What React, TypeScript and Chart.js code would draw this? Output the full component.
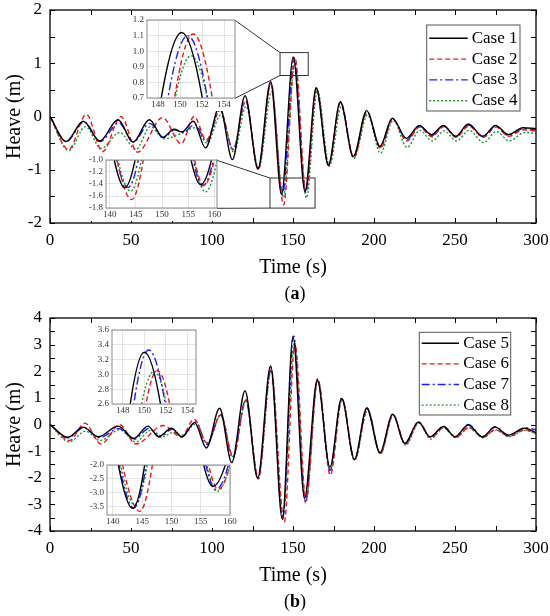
import { useEffect, useRef } from "react";
import { Chart, registerables } from "chart.js";

Chart.register(...registerables);

const SERIF = '"Liberation Serif", "Times New Roman", serif';

// ---------- panel (a) : heave time series, cases 1-4 ----------
const case1Time = [0, 10, 20.5, 30.7, 42, 51.3, 61.3, 69.8, 76.5, 81.5, 88.5, 96, 104.7, 112.6, 120.4, 128.4, 136.2, 142.9, 150.15, 157.4, 164.3, 171.8, 179.2, 187.2, 195.5, 203.7, 211.3, 220, 228, 235.5, 242.8, 250.5, 258.2, 267.2, 275, 283, 292, 300];
const case1Heave = [0, -0.47, -0.09, -0.46, -0.06, -0.48, -0.06, -0.39, -0.24, -0.29, -0.09, -0.59, 0.19, -0.81, 0.39, -0.98, 0.66, -1.46, 1.12, -1.41, 0.54, -0.91, 0.28, -0.75, 0.11, -0.56, -0.03, -0.41, -0.17, -0.34, -0.17, -0.37, -0.14, -0.37, -0.17, -0.34, -0.21, -0.23];

const case2Time = [0, 11.5, 22.4, 32.5, 43.8, 54, 69.5, 81, 89, 96.5, 105, 113, 120.8, 128.6, 136.4, 144.2, 151.2, 158, 164.6, 172, 179.4, 187.5, 195.8, 204, 211.5, 220.2, 228.2, 235.8, 243, 250.7, 258.5, 267.5, 275.3, 283.3, 292.5, 300];
const case2Heave = [0, -0.62, 0.04, -0.66, 0.0, -0.67, -0.02, -0.51, 0.0, -0.44, 0.12, -0.62, 0.3, -1.0, 0.63, -1.66, 1.11, -1.42, 0.52, -0.93, 0.27, -0.77, 0.08, -0.6, -0.05, -0.46, -0.2, -0.38, -0.19, -0.39, -0.18, -0.39, -0.2, -0.37, -0.25, -0.27];

const case3Time = [0, 10, 21, 31, 42.5, 51.5, 61.5, 70, 77, 82, 89.5, 96.8, 105, 113, 120.8, 128.5, 136.4, 143.5, 150.7, 157.8, 164.4, 172, 179.3, 187.3, 195.6, 203.8, 211.4, 220.2, 228, 235.6, 243, 250.5, 258.3, 267.3, 275, 283, 292, 300];
const case3Heave = [0, -0.47, -0.1, -0.47, -0.12, -0.48, -0.13, -0.4, -0.25, -0.3, -0.15, -0.47, 0.12, -0.62, 0.29, -0.98, 0.63, -1.46, 1.1, -1.43, 0.53, -0.92, 0.26, -0.76, 0.1, -0.58, -0.04, -0.44, -0.18, -0.36, -0.18, -0.38, -0.16, -0.38, -0.18, -0.36, -0.23, -0.25];

const case4Time = [0, 11.5, 22, 31.5, 43, 53, 62, 70.5, 81.5, 89.5, 97, 105.5, 113.5, 121, 128.8, 136.8, 144, 151, 158.3, 165, 172.5, 179.8, 187.6, 196, 204, 211.8, 220.4, 228.3, 236, 243.3, 251, 258.7, 267.7, 275.5, 283.5, 293, 300];
const case4Heave = [0, -0.64, -0.19, -0.6, -0.3, -0.62, -0.19, -0.42, -0.31, -0.21, -0.5, 0.03, -0.67, 0.19, -0.97, 0.47, -1.52, 0.97, -1.53, 0.5, -0.93, 0.18, -0.79, 0.03, -0.69, -0.07, -0.58, -0.26, -0.46, -0.27, -0.46, -0.26, -0.49, -0.28, -0.46, -0.3, -0.32];

// ---------- panel (b) : heave time series, cases 5-8 ----------
const case5Time = [0, 11, 20.4, 29.8, 42, 51.8, 60.5, 67, 75, 81.3, 89.3, 96.5, 104.7, 112.2, 120.4, 128.2, 136.2, 143.4, 150, 157.1, 165, 172.8, 180, 187.9, 195.5, 203.7, 211.5, 219, 227.4, 234.6, 242.8, 250, 258.2, 266.9, 274.7, 283, 293, 300];
const case5Heave = [0, -0.48, -0.1, -0.46, -0.06, -0.52, -0.06, -0.46, -0.14, -0.47, 0.07, -0.88, 0.61, -1.43, 1.27, -2.02, 2.2, -3.56, 3.3, -2.77, 1.67, -1.6, 0.98, -1.31, 0.61, -1.06, 0.39, -0.71, 0.1, -0.46, -0.08, -0.46, -0.02, -0.46, -0.1, -0.4, -0.14, -0.3];

const case6Time = [0, 12, 21.5, 31.5, 43, 53, 70, 81, 89, 97, 105.5, 113, 121, 128.6, 136.3, 144.6, 151.2, 158, 165.3, 173, 180.3, 188, 196, 204, 211.8, 219.4, 227.7, 235, 243, 250.5, 258.5, 267.2, 275, 283.3, 293.3, 300];
const case6Heave = [0, -0.6, 0.05, -0.73, -0.01, -0.73, -0.04, -0.47, 0.2, -0.7, 0.36, -1.21, 0.92, -2.05, 2.15, -3.67, 3.05, -2.87, 1.72, -1.9, 0.96, -1.33, 0.55, -1.1, 0.36, -0.74, 0.07, -0.5, -0.12, -0.48, -0.12, -0.48, -0.2, -0.44, -0.2, -0.34];

const case7Time = [0, 11, 21, 30.5, 42.5, 52, 61, 68, 75.5, 81.5, 90, 97, 105.2, 112.8, 120.8, 128.4, 136.4, 143.6, 150.4, 157.6, 165.2, 172.9, 180.1, 188, 195.7, 203.8, 211.6, 219.2, 227.5, 234.8, 242.9, 250.2, 258.3, 267, 274.8, 283.2, 293, 300];
const case7Heave = [0, -0.5, -0.12, -0.5, -0.15, -0.55, -0.15, -0.47, -0.16, -0.46, 0.1, -0.75, 0.36, -1.25, 0.92, -2.03, 2.05, -3.55, 3.33, -2.88, 1.7, -1.72, 1.0, -1.33, 0.63, -1.08, 0.4, -0.74, 0.1, -0.48, -0.06, -0.47, 0.0, -0.47, -0.08, -0.42, -0.12, -0.2];

const case8Time = [0, 12, 22, 31, 43, 53, 62, 70, 76, 82, 89.5, 97, 105.5, 113, 121, 128.6, 136.6, 143.7, 150.9, 157.8, 165.3, 173, 180.3, 188, 196, 204, 211.8, 219.5, 227.7, 235, 243, 250.5, 258.5, 267.2, 275, 283.3, 293.3, 300];
const case8Heave = [0, -0.65, -0.25, -0.6, -0.2, -0.65, -0.22, -0.45, -0.3, -0.4, 0.0, -0.72, 0.35, -1.2, 0.9, -2.0, 2.05, -3.42, 3.04, -2.95, 1.68, -1.75, 0.95, -1.35, 0.57, -1.1, 0.35, -0.78, 0.05, -0.55, -0.12, -0.5, -0.12, -0.5, -0.2, -0.46, -0.22, -0.35];

// inset tick values
const peakInsetTimeTicks = [148, 150, 152, 154];
const troughInsetTimeTicks = [140, 145, 150, 155, 160];
const peakInsetHeaveTicksA = [0.7, 0.8, 0.9, 1.0, 1.1, 1.2];
const troughInsetHeaveTicksA = [-1.8, -1.6, -1.4, -1.2, -1.0];
const peakInsetHeaveTicksB = [2.6, 2.8, 3.0, 3.2, 3.4, 3.6];
const troughInsetHeaveTicksB = [-3.5, -3.0, -2.5, -2.0];

type Series = { label: string; time: number[]; heave: number[]; color: string; dash: number[] };

const RED = "#f0141e";
const BLUE = "#1e1eff";
const GREEN = "#1a9a2a";

const seriesA: Series[] = [
  { label: "Case 1", time: case1Time, heave: case1Heave, color: "#000000", dash: [] },
  { label: "Case 2", time: case2Time, heave: case2Heave, color: RED, dash: [5, 3] },
  { label: "Case 3", time: case3Time, heave: case3Heave, color: BLUE, dash: [8, 3, 2, 3] },
  { label: "Case 4", time: case4Time, heave: case4Heave, color: GREEN, dash: [2, 2] },
];
const seriesB: Series[] = [
  { label: "Case 5", time: case5Time, heave: case5Heave, color: "#000000", dash: [] },
  { label: "Case 6", time: case6Time, heave: case6Heave, color: RED, dash: [5, 3] },
  { label: "Case 7", time: case7Time, heave: case7Heave, color: BLUE, dash: [8, 3, 2, 3] },
  { label: "Case 8", time: case8Time, heave: case8Heave, color: GREEN, dash: [2, 2] },
];

type InsetCfg = {
  left: number; top: number; width: number; height: number;
  xMin: number; xMax: number; yMin: number; yMax: number;
  xTicks: number[]; yTicks: number[];
  box?: { x0: number; x1: number; y0: number; y1: number };
};

const insetsA: InsetCfg[] = [
  { left: 146.7, top: 20.3, width: 88.3, height: 78, xMin: 147, xMax: 155, yMin: 0.7, yMax: 1.2,
    xTicks: peakInsetTimeTicks, yTicks: peakInsetHeaveTicksA, box: { x0: 142, x1: 159.4, y0: 0.77, y1: 1.2 } },
  { left: 105.5, top: 160, width: 110.5, height: 48.3, xMin: 139.3, xMax: 160.5, yMin: -1.8, yMax: -1.0,
    xTicks: troughInsetTimeTicks, yTicks: troughInsetHeaveTicksA, box: { x0: 135.8, x1: 163.6, y0: -1.72, y1: -1.155 } },
];
const insetsB: InsetCfg[] = [
  { left: 112.3, top: 22, width: 84.4, height: 74.3, xMin: 147, xMax: 154.8, yMin: 2.6, yMax: 3.6,
    xTicks: peakInsetTimeTicks, yTicks: peakInsetHeaveTicksB },
  { left: 107.3, top: 157, width: 122.7, height: 50, xMin: 139, xMax: 160, yMin: -3.8, yMax: -2.0,
    xTicks: troughInsetTimeTicks, yTicks: troughInsetHeaveTicksB },
];

const legendA = { left: 426.7, top: 25, width: 93.3, height: 86, firstRow: 13.3, rowGap: 20.8, lineStart: 2.5, lineEnd: 41, textX: 45 };
const legendB = { left: 419.3, top: 24.3, width: 91.4, height: 82.7, firstRow: 11, rowGap: 20.6, lineStart: 2.4, lineEnd: 39.7, textX: 44 };

const LINE_W = 1.4;

const toDataset = (s: Series) => ({
  label: s.label,
  data: s.time.map((t, i) => ({ x: t, y: s.heave[i] })),
  borderColor: s.color,
  borderDash: s.dash,
  borderWidth: LINE_W,
  pointRadius: 0,
  fill: false,
  cubicInterpolationMode: "monotone" as const,
  xAxisID: "x",
  yAxisID: "y",
});

const caseLegend = {
  id: "caseLegend",
  afterDraw(chart: any, _args: any, o: any) {
    const ctx = chart.ctx;
    ctx.save();
    ctx.fillStyle = "#fff";
    ctx.fillRect(o.left, o.top, o.width, o.height);
    ctx.strokeStyle = "#555";
    ctx.lineWidth = 1;
    ctx.strokeRect(o.left, o.top, o.width, o.height);
    chart.data.datasets.forEach((ds: any, i: number) => {
      const y = o.top + o.firstRow + i * o.rowGap;
      ctx.strokeStyle = ds.borderColor;
      ctx.lineWidth = ds.borderWidth;
      ctx.setLineDash(ds.borderDash || []);
      ctx.beginPath();
      ctx.moveTo(o.left + o.lineStart, y);
      ctx.lineTo(o.left + o.lineEnd, y);
      ctx.stroke();
      ctx.setLineDash([]);
      ctx.fillStyle = "#000";
      ctx.font = `17px ${SERIF}`;
      ctx.textBaseline = "middle";
      ctx.textAlign = "left";
      ctx.fillText(ds.label, o.left + o.textX, y);
    });
    ctx.restore();
  },
};

// boxes round the zoomed regions and the lines to their insets
const zoomBoxes = {
  id: "zoomBoxes",
  afterDraw(chart: any, _args: any, o: any) {
    const { x, y } = chart.scales;
    const ctx = chart.ctx;
    ctx.save();
    ctx.strokeStyle = "#333";
    ctx.lineWidth = 1;
    (o.insets || []).forEach((ins: InsetCfg) => {
      if (!ins.box) return;
      const bx0 = x.getPixelForValue(ins.box.x0);
      const bx1 = x.getPixelForValue(ins.box.x1);
      const byTop = y.getPixelForValue(ins.box.y1);
      const byBot = y.getPixelForValue(ins.box.y0);
      ctx.strokeRect(bx0, byTop, bx1 - bx0, byBot - byTop);
      ctx.beginPath();
      ctx.moveTo(bx0, byTop);
      ctx.lineTo(ins.left + ins.width, ins.top);
      ctx.moveTo(bx0, byBot);
      ctx.lineTo(ins.left + ins.width, ins.top + ins.height);
      ctx.stroke();
    });
    ctx.restore();
  },
};

// inward tick marks on all four sides of the main frame
const innerTicks = {
  id: "innerTicks",
  afterDraw(chart: any) {
    const { ctx, chartArea: a, scales } = chart;
    const len = 5;
    ctx.save();
    ctx.strokeStyle = "#000";
    ctx.lineWidth = 1;
    ctx.beginPath();
    scales.x.ticks.forEach((t: any) => {
      const px = Math.round(scales.x.getPixelForValue(t.value)) + 0.5;
      ctx.moveTo(px, a.bottom);
      ctx.lineTo(px, a.bottom - len);
      ctx.moveTo(px, a.top);
      ctx.lineTo(px, a.top + len);
    });
    scales.y.ticks.forEach((t: any) => {
      const py = Math.round(scales.y.getPixelForValue(t.value)) + 0.5;
      ctx.moveTo(a.left, py);
      ctx.lineTo(a.left + len, py);
      ctx.moveTo(a.right, py);
      ctx.lineTo(a.right - len, py);
    });
    ctx.stroke();
    ctx.lineWidth = 1.3;
    ctx.strokeRect(a.left, a.top, a.right - a.left, a.bottom - a.top);
    ctx.restore();
  },
};

const insetFrame = {
  id: "insetFrame",
  beforeDraw(chart: any) {
    const { ctx, chartArea: a, height } = chart;
    ctx.save();
    ctx.fillStyle = "#fff";
    ctx.fillRect(0, a.top, a.right, height - a.top);
    ctx.restore();
  },
  afterDraw(chart: any) {
    const { ctx, chartArea: a } = chart;
    ctx.save();
    ctx.strokeStyle = "#8a8a8a";
    ctx.lineWidth = 1;
    ctx.strokeRect(a.left, a.top, a.right - a.left, a.bottom - a.top);
    ctx.restore();
  },
};

const PAD_L = 20;
const PAD_R = 8;
const PAD_T = 5;
const PAD_B = 13;

function Inset({ cfg, series }: { cfg: InsetCfg; series: Series[] }) {
  const ref = useRef<HTMLCanvasElement>(null);
  useEffect(() => {
    if (!ref.current) return;
    const tickFont = { family: SERIF, size: 9 };
    const chart = new Chart(ref.current, {
      type: "line",
      data: { datasets: series.map(toDataset) as any },
      options: {
        animation: false,
        responsive: false,
        layout: { padding: { top: PAD_T, right: PAD_R, left: 0, bottom: 0 } },
        plugins: { legend: { display: false }, tooltip: { enabled: false } },
        scales: {
          x: {
            type: "linear", min: cfg.xMin, max: cfg.xMax,
            afterBuildTicks: (s: any) => { s.ticks = cfg.xTicks.map((v) => ({ value: v })); },
            ticks: { padding: 1.5, color: "#333", font: tickFont, maxRotation: 0, autoSkip: false, callback: (v: any) => String(v) },
            grid: { color: "#dedede", drawTicks: false, lineWidth: 0.8 },
            border: { display: false },
            afterFit: (s: any) => { s.height = PAD_B; s.paddingLeft = 0; s.paddingRight = 0; },
          },
          y: {
            type: "linear", min: cfg.yMin, max: cfg.yMax,
            afterBuildTicks: (s: any) => { s.ticks = cfg.yTicks.map((v) => ({ value: v })); },
            ticks: { padding: 3, color: "#333", font: tickFont, autoSkip: false, callback: (v: any) => Number(v).toFixed(1) },
            grid: { color: "#dedede", drawTicks: false, lineWidth: 0.8 },
            border: { display: false },
            afterFit: (s: any) => { s.width = PAD_L; s.paddingTop = 0; s.paddingBottom = 0; },
          },
        },
      },
      plugins: [insetFrame],
    });
    return () => chart.destroy();
  }, [cfg, series]);

  return (
    <canvas
      ref={ref}
      width={Math.round(cfg.width + PAD_L + PAD_R)}
      height={Math.round(cfg.height + PAD_T + PAD_B)}
      style={{ position: "absolute", left: cfg.left - PAD_L, top: cfg.top - PAD_T }}
    />
  );
}

function Panel({ top, series, yMin, yMax, insets, legend, tag }: {
  top: number; series: Series[]; yMin: number; yMax: number; insets: InsetCfg[]; legend: any; tag: string;
}) {
  const ref = useRef<HTMLCanvasElement>(null);
  useEffect(() => {
    if (!ref.current) return;
    const tickFont = { family: SERIF, size: 17 };
    const titleFont = { family: SERIF, size: 20 };
    const noGrid = { drawOnChartArea: false, drawTicks: false };
    const chart = new Chart(ref.current, {
      type: "line",
      data: { datasets: series.map(toDataset) as any },
      options: {
        animation: false,
        responsive: false,
        layout: { padding: { top: 10, right: 14, bottom: 0, left: 0 } },
        plugins: {
          legend: { display: false },
          tooltip: { enabled: false },
          caseLegend: legend,
          zoomBoxes: { insets },
        } as any,
        scales: {
          x: {
            type: "linear", position: "bottom", min: 0, max: 300,
            ticks: { stepSize: 25, autoSkip: false, maxRotation: 0, padding: 7, color: "#000", font: tickFont,
              callback: (v: any) => (Number(v) % 50 === 0 ? String(v) : "") },
            grid: noGrid,
            border: { display: false },
            title: { display: true, text: "Time (s)", color: "#000", font: titleFont, padding: { top: 0, bottom: 28 } },
            afterFit: (s: any) => { s.height = 85; s.paddingLeft = 0; s.paddingRight = 0; },
          },
          y: {
            type: "linear", position: "left", min: yMin, max: yMax,
            ticks: { stepSize: 0.5, autoSkip: false, padding: 8, color: "#000", font: tickFont,
              callback: (v: any) => (Number.isInteger(Number(v)) ? String(v) : "") },
            grid: noGrid,
            border: { display: false },
            title: { display: true, text: "Heave (m)", color: "#000", font: titleFont, padding: { top: 3, bottom: 0 } },
            afterFit: (s: any) => { s.width = 50; s.paddingTop = 0; s.paddingBottom = 0; },
          },
        },
      },
      plugins: [innerTicks, zoomBoxes, caseLegend],
    });
    return () => chart.destroy();
  }, [series, yMin, yMax, insets, legend]);

  return (
    <div style={{ position: "absolute", left: 0, top, width: 550, height: 308 }}>
      <canvas ref={ref} width={550} height={308} style={{ position: "absolute", left: 0, top: 0 }} />
      {insets.map((cfg, i) => (
        <Inset key={i} cfg={cfg} series={series} />
      ))}
      <div
        style={{
          position: "absolute", left: 255, top: 283, width: 80, lineHeight: "20px", textAlign: "center",
          fontFamily: SERIF, fontSize: 18, color: "#000",
        }}
      >
        (<b>{tag}</b>)
      </div>
    </div>
  );
}

export default function App() {
  return (
    <div style={{ position: "absolute", left: 0, top: 0, width: 550, height: 616, background: "#fff" }}>
      <Panel top={0} series={seriesA} yMin={-2} yMax={2} insets={insetsA} legend={legendA} tag="a" />
      <Panel top={308} series={seriesB} yMin={-4} yMax={4} insets={insetsB} legend={legendB} tag="b" />
    </div>
  );
}
